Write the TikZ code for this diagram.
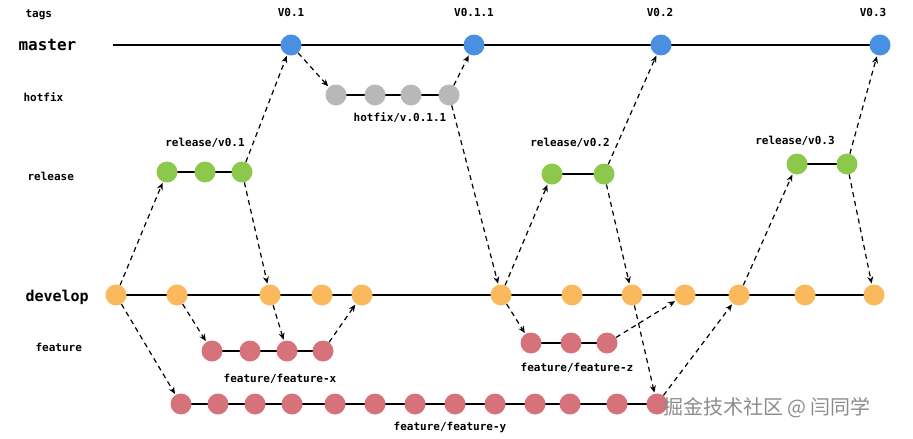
\documentclass[tikz,border=0pt]{standalone}
\usepackage{fontspec}
\setmonofont{DejaVu Sans Mono}
\newfontfamily\cjk{Noto Sans CJK SC}
\usetikzlibrary{arrows.meta}
\definecolor{cblue}{HTML}{4A90E2}
\definecolor{cgray}{HTML}{B8B8B8}
\definecolor{cgreen}{HTML}{8CC84B}
\definecolor{corange}{HTML}{F9B95C}
\definecolor{cpink}{HTML}{D6727A}
\begin{document}
\begin{tikzpicture}[x=1pt,y=-1pt,
  commit/.style={circle,minimum size=21pt,inner sep=0pt},
  mst/.style={commit,fill=cblue},
  hot/.style={commit,fill=cgray},
  rel/.style={commit,fill=cgreen},
  dev/.style={commit,fill=corange},
  feat/.style={commit,fill=cpink},
  lane/.style={font=\ttfamily\bfseries\fontsize{11}{12}\selectfont,anchor=west},
  lbl/.style={font=\ttfamily\bfseries\fontsize{11}{12}\selectfont},
  branch/.style={line width=1.2pt},
  flow/.style={-{Stealth[length=7pt,width=6pt]},line width=1.2pt,dash pattern=on 5pt off 4pt,shorten >=1pt}]
\useasboundingbox (0,0) rectangle (913,439);

% lanes
\node[lane] (ltags) at (22,15) {tags};
\node[lane,font=\ttfamily\bfseries\fontsize{16}{18}\selectfont] (lmaster) at (15,45) {master};
\node[lane] (lhotfix) at (20,97) {hotfix};
\node[lane] (lrelease) at (24,176) {release};
\node[lane,font=\ttfamily\bfseries\fontsize{15}{17}\selectfont] (ldevelop) at (22,297) {develop};
\node[lane] (lfeature) at (32,347) {feature};

% lines
\coordinate (ms) at (113,45);
\draw[branch] (ms) -- (880,45);
\draw[branch] (116,295) -- (874,295);
\draw[branch] (336,95) -- (449,95);
\draw[branch] (167,172) -- (242,172);
\draw[branch] (552,174) -- (604,174);
\draw[branch] (797,164) -- (847,164);
\draw[branch] (212,351) -- (323,351);
\draw[branch] (531,343) -- (607,343);
\draw[branch] (181,404) -- (657,404);

% commits
\foreach \i/\x in {1/291,2/474,3/661,4/880} \node[mst] (m\i) at (\x,45) {};
\foreach \i/\x in {1/336,2/375,3/411,4/449} \node[hot] (h\i) at (\x,95) {};
\foreach \i/\x in {1/167,2/205,3/242} \node[rel] (ra\i) at (\x,172) {};
\foreach \i/\x in {1/552,2/604} \node[rel] (rb\i) at (\x,174) {};
\foreach \i/\x in {1/797,2/847} \node[rel] (rc\i) at (\x,164) {};
\foreach \i/\x in {1/116,2/177,3/270,4/322,5/362,6/501,7/572,8/632,9/685,10/739,11/805,12/874}
  \node[dev] (d\i) at (\x,295) {};
\foreach \i/\x in {1/212,2/250,3/287,4/323} \node[feat] (fx\i) at (\x,351) {};
\foreach \i/\x in {1/531,2/571,3/607} \node[feat] (fz\i) at (\x,343) {};
\foreach \i/\x in {1/181,2/218,3/255,4/292,5/335,6/375,7/415,8/455,9/495,10/535,11/570,12/617,13/657}
  \node[feat] (fy\i) at (\x,404) {};

% tags and branch names
\node[lbl] (t1) at (291,12) {V0.1};
\node[lbl] (t2) at (474,12) {V0.1.1};
\node[lbl] (t3) at (660,12) {V0.2};
\node[lbl] (t4) at (873,12) {V0.3};
\node[lbl] (nh) at (400,118) {hotfix/v.0.1.1};
\node[lbl] (nra) at (205,143) {release/v0.1};
\node[lbl] (nrb) at (570,143) {release/v0.2};
\node[lbl] (nrc) at (795,141) {release/v0.3};
\node[lbl] (nfx) at (280,379) {feature/feature-x};
\node[lbl] (nfz) at (577,368) {feature/feature-z};
\node[lbl] (nfy) at (450,427) {feature/feature-y};

% merges
\draw[flow] (d1) -- (ra1);
\draw[flow] (d1) -- (fy1);
\draw[flow] (ra3) -- (m1);
\draw[flow] (ra3) -- (d3);
\draw[flow] (m1) -- (h1);
\draw[flow] (h4) -- (m2);
\draw[flow] (h4) -- (d6);
\draw[flow] (d2) -- (fx1);
\draw[flow] (d3) -- (fx3);
\draw[flow] (fx4) -- (d5);
\draw[flow] (d6) -- (rb1);
\draw[flow] (d6) -- (fz1);
\draw[flow] (rb2) -- (m3);
\draw[flow] (rb2) -- (d8);
\draw[flow] (fz3) -- (d9);
\draw[flow] (d8) -- (fy13);
\draw[flow] (fy13) -- (d10);
\draw[flow] (d10) -- (rc1);
\draw[flow] (rc2) -- (m4);
\draw[flow] (rc2) -- (d12);

\node[font=\cjk\fontsize{20}{22}\selectfont,text=black!45] (wm) at (767,408) {掘金技术社区 @ 闫同学};
\end{tikzpicture}
\end{document}
